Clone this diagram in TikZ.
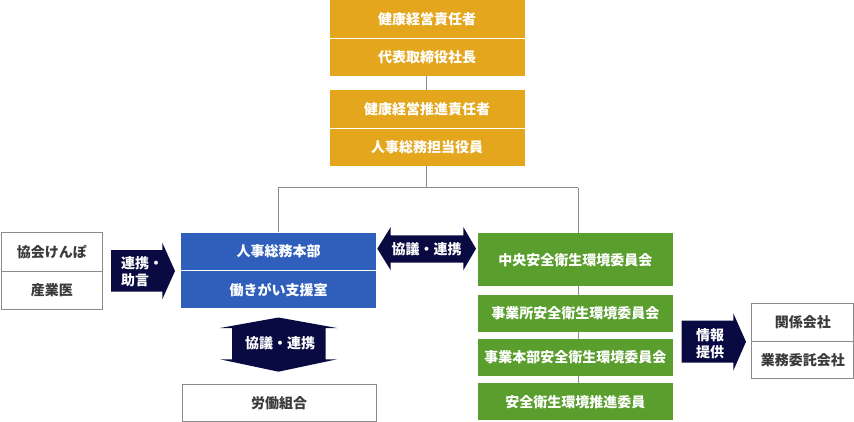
\documentclass[tikz,border=0pt]{standalone}
\usepackage{fontspec}
\setmainfont{Noto Sans CJK JP}
\definecolor{gold}{HTML}{E3A61C}
\definecolor{blueb}{HTML}{2F5FBB}
\definecolor{greenb}{HTML}{5A9E2D}
\definecolor{navy}{HTML}{0A0A42}
\definecolor{linegray}{HTML}{8A8A8A}
\definecolor{txtgray}{HTML}{3A3A3A}
\tikzset{
  x=1pt, y=-1pt,
  jtext/.style={font=\fontsize{14pt}{17pt}\selectfont\bfseries},
  cbox/.style={jtext, rectangle, inner sep=0pt, anchor=north west, text=white, minimum width=195pt},
  goldbox/.style={cbox, fill=gold},
  bluebox/.style={cbox, fill=blueb},
  greenbox/.style={cbox, fill=greenb},
  wbox/.style={jtext, rectangle, inner sep=0pt, anchor=north west, text=txtgray, draw=linegray, line width=1pt, fill=white},
  conn/.style={draw=linegray, line width=1pt},
  arrowfill/.style={fill=navy},
  arrowtext/.style={jtext, text=white, inner sep=0pt}
}
\begin{document}
\begin{tikzpicture}
\useasboundingbox (0,0) rectangle (854,422);
% gold chain
\node[goldbox, minimum height=37.5pt] (g1) at (329.5,0) {健康経営責任者};
\node[goldbox, minimum height=37.5pt] (g2) at (329.5,38.5) {代表取締役社長};
\node[goldbox, minimum height=37.5pt] (g3) at (329.5,90) {健康経営推進責任者};
\node[goldbox, minimum height=37pt] (g4) at (329.5,128.5) {人事総務担当役員};
% blue
\node[bluebox, minimum height=37.5pt] (b1) at (181,232.5) {人事総務本部};
\node[bluebox, minimum height=37pt] (b2) at (181,271) {働きがい支援室};
% labour union
\node[wbox, minimum width=194pt, minimum height=37pt] (lu) at (181.5,384) {労働組合};
% green
\node[greenbox, minimum height=52.4pt] (gr1) at (477.7,233.3) {中央安全衛生環境委員会};
\node[greenbox, minimum height=36.7pt] (gr2) at (477.7,295) {事業所安全衛生環境委員会};
\node[greenbox, minimum height=36.7pt] (gr3) at (477.7,339) {事業本部安全衛生環境委員会};
\node[greenbox, minimum height=37pt] (gr4) at (477.7,383) {安全衛生環境推進委員};
% left boxes
\node[wbox, minimum width=101.5pt, minimum height=38pt] (k1) at (0.5,232.5) {協会けんぽ};
\node[wbox, minimum width=101.5pt, minimum height=38pt] (k2) at (0.5,270.5) {産業医};
% right boxes
\node[wbox, minimum width=102pt, minimum height=38.2pt] (r1) at (751.3,302.5) {関係会社};
\node[wbox, minimum width=102pt, minimum height=37.6pt] (r2) at (751.3,340.7) {業務委託会社};
% connectors
\coordinate (busL) at (278.3,187.7);
\coordinate (busR) at (578.3,187.7);
\coordinate (busM) at (426.3,187.7);
\draw[conn] (busM |- g2.south) -- (busM |- g3.north);
\draw[conn] (busM |- g4.south) -- (busM);
\draw[conn] (busL) -- (busR);
\draw[conn] (busL) -- (busL |- b1.north);
\draw[conn] (busR) -- (busR |- gr1.north);
\draw[conn] (busR |- gr1.south) -- (busR |- gr2.north);
\draw[conn] (busR |- gr2.south) -- (busR |- gr3.north);
\draw[conn] (busR |- gr3.south) -- (busR |- gr4.north);
% arrow: 連携・助言
\fill[arrowfill] (111,250) -- (162.3,250) -- (162.3,242.7) -- (175,271) -- (162.3,299.3) -- (162.3,291.7) -- (111,291.7) -- cycle;
\node[arrowtext, anchor=west, align=left, font=\fontsize{14pt}{17.5pt}\selectfont\bfseries] (a1) at (121,271.5) {連携・\\助言};
% horizontal double arrow
\fill[arrowfill] (377.3,248.7) -- (390.7,227) -- (390.7,235.3) -- (463.3,235.3) -- (463.3,227) -- (476,248.7) -- (463.3,270.3) -- (463.3,262.7) -- (390.7,262.7) -- (390.7,270.3) -- cycle;
\node[arrowtext] (a2) at (426.7,248.7) {協議・連携};
% vertical double arrow
\fill[arrowfill] (278.5,317.5) -- (337,328) -- (325.5,328) -- (325.5,359.3) -- (337,359.3) -- (278.5,371.7) -- (220,359.3) -- (232,359.3) -- (232,328) -- (220,328) -- cycle;
\node[arrowtext] (a3) at (280,343.5) {協議・連携};
% info arrow
\fill[arrowfill] (681.7,320.7) -- (733.3,320.7) -- (733.3,313.3) -- (746,341.7) -- (733.3,370.7) -- (733.3,362.7) -- (681.7,362.7) -- cycle;
\node[arrowtext, align=left, font=\fontsize{14pt}{16.5pt}\selectfont\bfseries] (a4) at (710,343.5) {情報\\提供};
\end{tikzpicture}
\end{document}
